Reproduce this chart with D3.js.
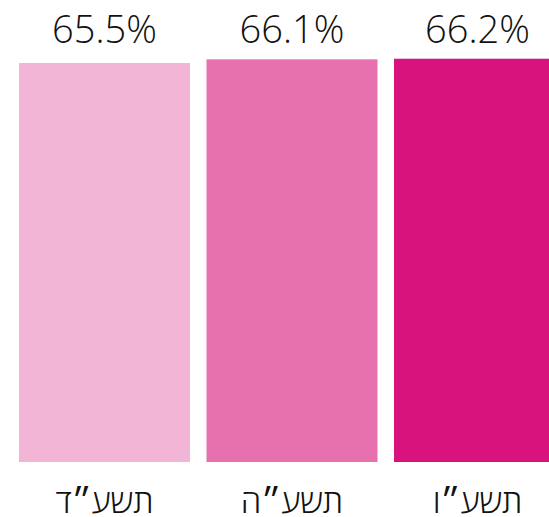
<!DOCTYPE html>
<html><head><meta charset="utf-8">
<script src="https://cdn.jsdelivr.net/npm/d3@7"></script>
<style>
html,body{margin:0;padding:0;background:#fff;overflow:hidden;}
text{font-family:"Open Sans","Noto Sans",sans-serif;font-weight:300;}
</style></head>
<body><svg id="c" width="549" height="517"></svg>
<script>
const categories = ["תשע״ד", "תשע״ה", "תשע״ו"];
const values = [65.5, 66.1, 66.2];
const valueLabels = ["65.5%", "66.1%", "66.2%"];
const colors = ["#F3B5D6", "#E770AE", "#D8137D"];

const svg = d3.select("#c");
const x = d3.scaleBand().domain(categories).range([19, 565]).paddingInner(0.088).paddingOuter(0);
const y = d3.scaleLinear().domain([0, 65.5]).range([462, 63]);

svg.selectAll("rect.bar").data(values).enter().append("rect")
  .attr("class","bar")
  .attr("x",(d,i)=>x(categories[i]))
  .attr("width",x.bandwidth())
  .attr("y",d=>y(d))
  .attr("height",d=>y(0)-y(d))
  .attr("fill",(d,i)=>colors[i]);

svg.selectAll("text.val").data(values).enter().append("text")
  .attr("class","val")
  .attr("x",(d,i)=>x(categories[i])+x.bandwidth()/2 - (i===2?2:0))
  .attr("y",43)
  .attr("text-anchor","middle")
  .attr("font-size",38)
  .attr("fill","#111")
  .text((d,i)=>valueLabels[i]);

svg.selectAll("text.cat").data(categories).enter().append("text")
  .attr("class","cat")
  .attr("x",d=>x(d)+x.bandwidth()/2 - (d===categories[2]?2:0))
  .attr("y",513)
  .attr("text-anchor","middle")
  .attr("direction","rtl")
  .attr("font-size",33)
  .attr("fill","#111")
  .text(d=>d);
</script></body></html>
